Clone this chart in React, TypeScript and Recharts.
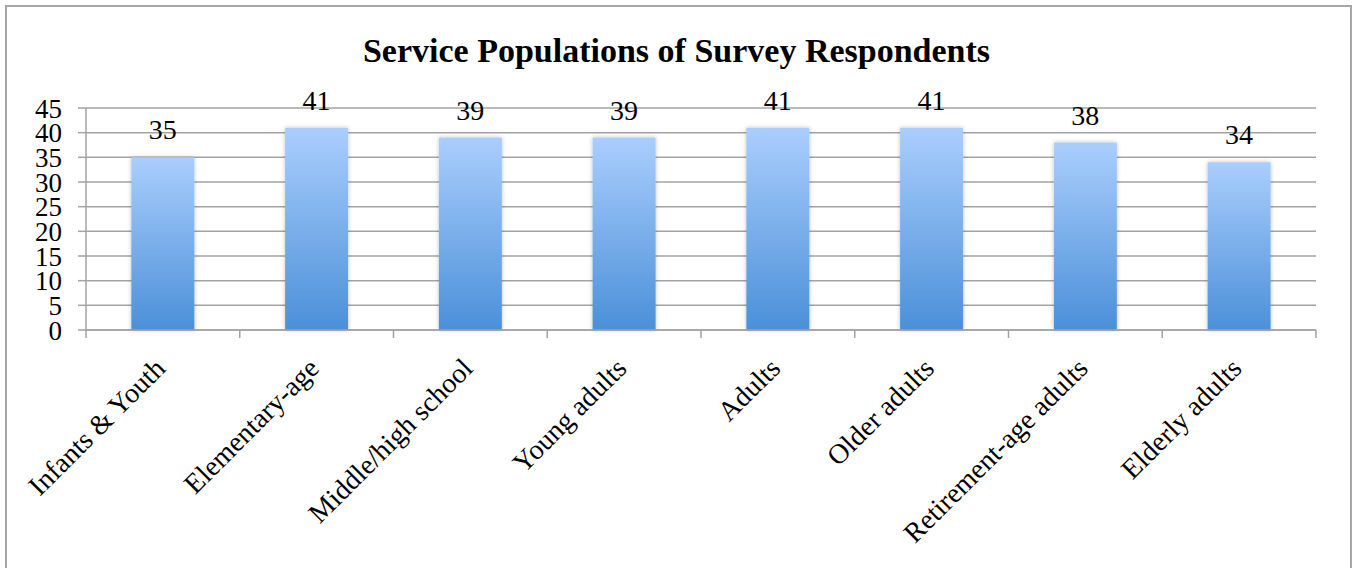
import React from 'react';
import {
  BarChart,
  Bar,
  XAxis,
  YAxis,
  CartesianGrid,
  LabelList,
} from 'recharts';

const categories = [
  'Infants & Youth',
  'Elementary-age',
  'Middle/high school',
  'Young adults',
  'Adults',
  'Older adults',
  'Retirement-age adults',
  'Elderly adults',
];
const respondents = [35, 41, 39, 39, 41, 41, 38, 34];
const yTicks = [0, 5, 10, 15, 20, 25, 30, 35, 40, 45];

const data = categories.map((name, i) => ({ name, value: respondents[i] }));

const W = 1353;
const H = 568;
const MARGIN = { top: 108, right: 37, bottom: 0, left: 0 };
const Y_AXIS_W = 86;
const FONT = '"Liberation Serif", "Times New Roman", serif';
const GRID = '#a3a3a3';

// ticks sit between the categories, labels at the centre
const CategoryTick = (props: any) => {
  const { x, y, payload, index } = props;
  const band = (W - MARGIN.left - MARGIN.right - Y_AXIS_W) / categories.length;
  const half = payload?.offset || band / 2;
  const axisY = y - 8;
  const lx = x + 4;
  const ly = axisY + 40;
  return (
    <g>
      <line x1={x - half} x2={x - half} y1={axisY} y2={axisY + 8} stroke={GRID} strokeWidth={1.5} />
      {index === categories.length - 1 && (
        <line x1={x + half} x2={x + half} y1={axisY} y2={axisY + 8} stroke={GRID} strokeWidth={1.5} />
      )}
      <text
        x={lx}
        y={ly}
        textAnchor="end"
        transform={`rotate(-45 ${lx} ${ly})`}
        fontSize={28}
        fontFamily={FONT}
        fill="#000"
      >
        {payload.value}
      </text>
    </g>
  );
};

export default function App() {
  return (
    <div style={{ position: 'absolute', left: 0, top: 0, width: W, height: H, background: '#fff', overflow: 'hidden' }}>
      <div
        style={{
          position: 'absolute',
          left: 5,
          top: 5,
          width: W - 10,
          height: H + 10,
          border: '2px solid #a6a6a6',
        }}
      />
      <div
        style={{
          position: 'absolute',
          left: 0,
          top: 32,
          width: W,
          textAlign: 'center',
          fontFamily: FONT,
          fontWeight: 'bold',
          fontSize: 34,
          color: '#000',
        }}
      >
        Service Populations of Survey Respondents
      </div>
      <div style={{ position: 'absolute', left: 0, top: 0 }}>
        <BarChart width={W} height={H} data={data} margin={MARGIN} barCategoryGap="29.5%">
          <defs>
            <linearGradient id="barFill" x1="0" y1="0" x2="0" y2="1">
              <stop offset="0%" stopColor="#aacefd" />
              <stop offset="100%" stopColor="#4b90d8" />
            </linearGradient>
            <filter id="barShadow" x="-20%" y="-10%" width="140%" height="120%">
              <feDropShadow dx="0" dy="0" stdDeviation="2" floodColor="#000" floodOpacity="0.25" />
            </filter>
          </defs>
          <CartesianGrid vertical={false} stroke={GRID} strokeWidth={1.5} />
          <XAxis
            dataKey="name"
            interval={0}
            height={H - MARGIN.top - 222}
            axisLine={{ stroke: GRID, strokeWidth: 1.5 }}
            tickLine={false}
            tickSize={8}
            tickMargin={0}
            tick={<CategoryTick />}
          />
          <YAxis
            domain={[0, 45]}
            ticks={yTicks}
            interval={0}
            width={Y_AXIS_W}
            axisLine={{ stroke: GRID, strokeWidth: 1.5 }}
            tickLine={{ stroke: GRID, strokeWidth: 1.5 }}
            tickSize={8}
            tickMargin={16}
            tick={{ fontSize: 27, fontFamily: FONT, fill: '#000' }}
          />
          <Bar dataKey="value" fill="url(#barFill)" filter="url(#barShadow)" isAnimationActive={false}>
            <LabelList
              dataKey="value"
              position="top"
              offset={18}
              fontSize={28}
              fontFamily={FONT}
              fill="#000"
            />
          </Bar>
        </BarChart>
      </div>
    </div>
  );
}
